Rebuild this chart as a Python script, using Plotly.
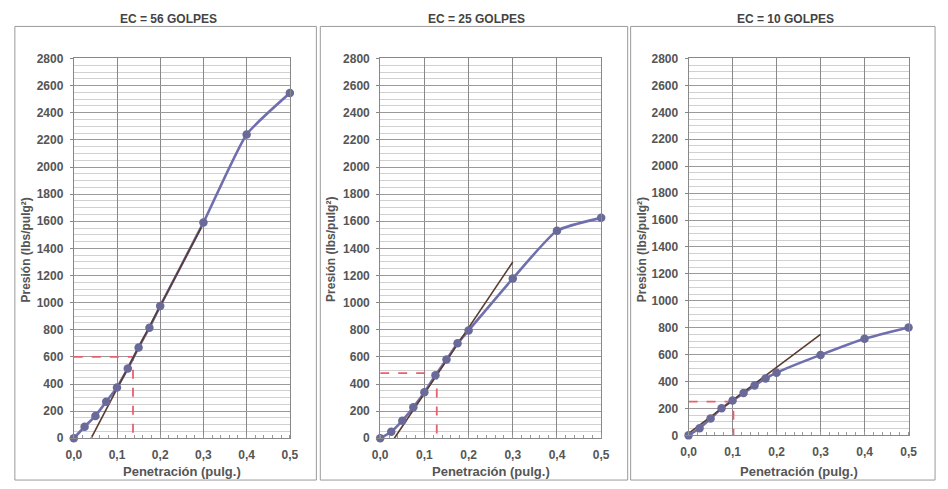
import plotly.graph_objects as go

# ---- data ----
penetracion = [0.0, 0.025, 0.05, 0.075, 0.1, 0.125, 0.15, 0.175, 0.2, 0.3, 0.4, 0.5]
presion_56 = [0, 85, 165, 270, 375, 515, 670, 815, 975, 1590, 2240, 2545]
presion_25 = [0, 48, 130, 228, 340, 465, 580, 700, 795, 1178, 1530, 1625]
presion_10 = [0, 53, 125, 202, 259, 314, 370, 422, 466, 598, 718, 802]

tangente_56_x = [0.04, 0.295]
tangente_56_y = [0, 1555]
tangente_25_x = [0.032, 0.3]
tangente_25_y = [0, 1300]
tangente_10_x = [0.0, 0.3]
tangente_10_y = [15, 750]

corr_56 = (0.137, 600)
corr_25 = (0.128, 480)
corr_10 = (0.102, 250)

titulos = ["EC = 56 GOLPES", "EC = 25 GOLPES", "EC = 10 GOLPES"]
x_ticks = [0.0, 0.1, 0.2, 0.3, 0.4, 0.5]
x_ticklabels = ["0,0", "0,1", "0,2", "0,3", "0,4", "0,5"]
y_ticks = list(range(0, 2801, 200))

W, H = 948, 489
FONT = "Liberation Sans, Arial, sans-serif"
CURVE = "#6f6fae"
MARK = "#6a6a98"
TAN = "#5b3b2e"
RED = "#e8606e"

# pixel geometry of plot areas
plots = [
    dict(x0=67, x1=287, y0=53, y1=444, box=(7, 20, 314, 487)),
    dict(x0=379, x1=604, y0=53, y1=444, box=(318, 20, 631, 487)),
    dict(x0=693, x1=917, y0=53, y1=441, box=(634, 20, 944, 487)),
]
series = [presion_56, presion_25, presion_10]
tangentes = [(tangente_56_x, tangente_56_y), (tangente_25_x, tangente_25_y), (tangente_10_x, tangente_10_y)]
corrs = [corr_56, corr_25, corr_10]

fig = go.Figure()
layout = dict(
    width=W, height=H, margin=dict(l=0, r=0, t=0, b=0),
    paper_bgcolor="white", plot_bgcolor="white", showlegend=False,
    font=dict(family=FONT, color="#444"),
)
annotations = []
shapes = []

for i, (p, ys, tg, cr, tit) in enumerate(zip(plots, series, tangentes, corrs, titulos)):
    n = "" if i == 0 else str(i + 1)
    xa, ya = "x" + n, "y" + n
    layout["xaxis" + n] = dict(
        domain=[p["x0"] / W, p["x1"] / W], anchor=ya, range=[0, 0.5],
        tickvals=x_ticks, ticktext=x_ticklabels,
        tickfont=dict(size=12, family=FONT, color="#555", weight="bold"),
        ticklabelstandoff=5,
        showgrid=True, gridcolor="#888", gridwidth=1,
        showline=True, linecolor="#888", mirror=True, zeroline=False,
        ticks="", minor=dict(dtick=0.02, tick0=0, ticks="inside", ticklen=3, tickcolor="#999", showgrid=False),
    )
    layout["yaxis" + n] = dict(
        domain=[1 - p["y1"] / H, 1 - p["y0"] / H], anchor=xa, range=[0, 2800],
        tickvals=y_ticks,
        tickfont=dict(size=12, family=FONT, color="#555", weight="bold"),
        ticklabelstandoff=4,
        showgrid=True, gridcolor="#9a9a9a", gridwidth=1,
        showline=True, linecolor="#888", mirror=True, zeroline=False,
        ticks="outside", ticklen=3, tickcolor="#888",
        minor=dict(dtick=50, tick0=0, showgrid=True, gridcolor="#d0d0d0", gridwidth=1),
    )
    # corrected CBR dashed lines
    fig.add_trace(go.Scatter(x=[0, cr[0], cr[0]], y=[cr[1], cr[1], 0], mode="lines",
                             line=dict(color=RED, width=1.8, dash="dash"),
                             xaxis=xa, yaxis=ya, hoverinfo="skip", cliponaxis=False))
    # smooth curve
    fig.add_trace(go.Scatter(x=penetracion, y=ys, mode="lines",
                             line=dict(color=CURVE, width=2.6, shape="spline", smoothing=0.5),
                             xaxis=xa, yaxis=ya, cliponaxis=False))
    # tangent line
    fig.add_trace(go.Scatter(x=tg[0], y=tg[1], mode="lines", line=dict(color=TAN, width=1.6),
                             xaxis=xa, yaxis=ya, cliponaxis=False))
    # points
    fig.add_trace(go.Scatter(x=penetracion, y=ys, mode="markers", marker=dict(color=MARK, size=8.5),
                             xaxis=xa, yaxis=ya, cliponaxis=False))

    bx0, by0, bx1, by1 = p["box"]
    shapes.append(dict(type="rect", xref="paper", yref="paper",
                       x0=bx0 / W, x1=bx1 / W, y0=1 - by1 / H, y1=1 - by0 / H,
                       line=dict(color="#9a9a9a", width=1), layer="below"))
    cx = (p["x0"] + p["x1"]) / 2
    annotations.append(dict(text=tit, x=(bx0 + bx1) / 2 / W + 0.003, y=1 - 12 / H, xref="paper", yref="paper",
                            showarrow=False, font=dict(size=12, family=FONT, color="#444", weight="bold"),
                            xanchor="center", yanchor="middle"))
    annotations.append(dict(text="Penetración (pulg.)", x=cx / W, y=1 - 478 / H, xref="paper", yref="paper",
                            showarrow=False, font=dict(size=13, family=FONT, color="#555", weight="bold"),
                            xanchor="center", yanchor="middle"))
    annotations.append(dict(text="Presión (lbs/pulg²)", x=(bx0 + 11) / W, y=1 - 250 / H, xref="paper", yref="paper",
                            showarrow=False, textangle=-90, font=dict(size=12, family=FONT, color="#555", weight="bold"),
                            xanchor="center", yanchor="middle"))

layout["annotations"] = annotations
layout["shapes"] = shapes
fig.update_layout(**layout)
fig.write_html("out.html")
